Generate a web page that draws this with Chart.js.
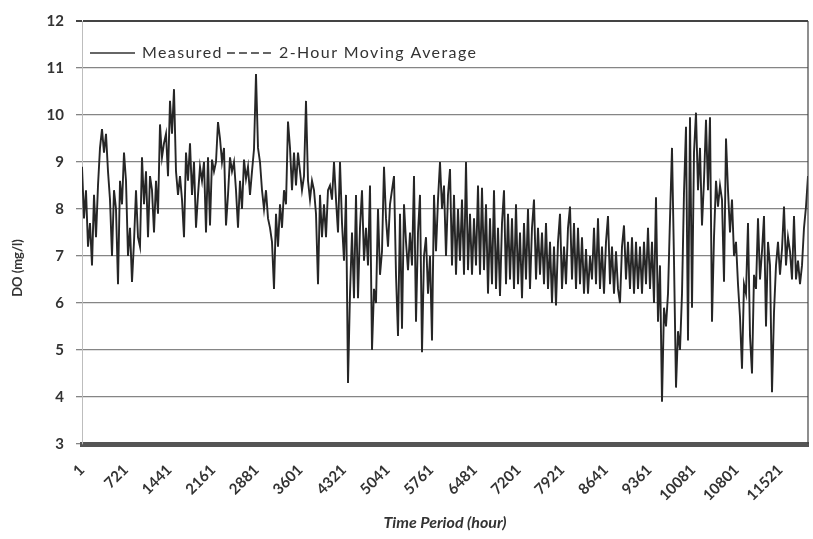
<!DOCTYPE html>
<html>
<head>
<meta charset="utf-8">
<script src="https://cdn.jsdelivr.net/npm/chart.js@4.4.1/dist/chart.umd.min.js"></script>
<style>
  body { margin: 0; background: #fff; }
</style>
</head>
<body>
<canvas id="doChart" width="813" height="539"></canvas>
<script>
// DO readings, one every 33 hours from hour 1
const firstHour = 1;
const hourStep = 33;
const doValues = [
  8.9, 7.8, 8.4, 7.2, 7.7, 6.8, 8.3, 7.4, 8.5, 9.3,
  9.7, 9.2, 9.6, 8.8, 8.2, 7.0, 8.4, 8.0, 6.4, 8.6,
  8.1, 9.2, 8.6, 7.0, 7.6, 6.45, 7.3, 8.4, 7.4, 7.2,
  9.1, 8.1, 8.8, 7.4, 8.7, 8.4, 7.5, 8.6, 7.9, 9.8,
  9.1, 9.4, 9.6, 8.7, 10.3, 9.6, 10.55, 8.8, 8.3, 8.7,
  8.2, 7.4, 9.2, 8.6, 9.4, 8.3, 9.0, 7.6, 8.3, 8.9,
  8.6, 9.0, 7.5, 9.1, 7.65, 9.05, 8.8, 9.0, 9.85, 9.5,
  9.0, 9.3, 7.65, 8.3, 9.1, 8.8, 9.0, 8.4, 7.6, 8.6,
  8.0, 9.05, 8.64, 8.9, 8.3, 8.8, 9.27, 10.87, 9.3, 9.0,
  8.4, 8.0, 8.4, 7.8, 7.6, 7.3, 6.3, 7.9, 7.2, 8.1,
  7.6, 8.4, 8.1, 9.86, 9.3, 8.4, 9.2, 8.5, 9.2, 8.8,
  8.4, 8.7, 10.3, 8.6, 8.2, 8.6, 8.4, 7.9, 6.4, 8.3,
  7.4, 8.1, 7.4, 8.4, 8.5, 8.2, 9.0, 8.2, 7.5, 9.0,
  7.7, 6.9, 8.3, 4.3, 6.2, 7.5, 6.1, 8.3, 6.1, 7.6,
  8.4, 6.9, 7.6, 6.8, 8.5, 5.0, 6.3, 6.0, 8.0, 6.6,
  7.1, 8.9, 7.8, 7.2, 8.1, 8.4, 8.7, 6.6, 5.3, 7.9,
  5.45, 8.1, 7.3, 6.7, 7.5, 6.8, 8.7, 5.6, 7.5, 8.3,
  4.95, 7.0, 7.4, 6.2, 7.0, 5.2, 8.3, 7.1, 8.2, 9.0,
  8.0, 8.5, 7.0, 8.3, 8.85, 6.8, 8.3, 6.6, 8.0, 6.9,
  8.2, 6.6, 9.0, 6.7, 7.9, 6.6, 7.8, 6.8, 8.5, 6.6,
  8.45, 6.7, 8.1, 6.2, 7.8, 6.4, 8.4, 6.3, 7.6, 6.15,
  7.7, 8.4, 6.4, 7.9, 6.5, 7.8, 6.3, 8.1, 6.4, 7.5,
  6.1, 7.7, 6.5, 8.0, 6.3, 7.6, 8.2, 6.5, 7.6, 6.6,
  7.5, 6.4, 7.7, 6.3, 7.3, 6.0, 7.2, 5.95, 7.3, 7.9,
  6.3, 7.2, 6.4, 7.6, 8.05, 6.5, 7.7, 6.3, 7.6, 6.4,
  7.4, 6.2, 7.15, 6.2, 7.0, 6.5, 7.6, 6.4, 7.8, 6.3,
  7.2, 6.2, 7.3, 7.85, 6.4, 7.2, 6.2, 7.1, 6.3, 6.0,
  7.2, 7.65, 6.5, 7.3, 6.3, 7.4, 6.2, 7.3, 6.3, 7.2,
  6.2, 7.3, 6.4, 7.6, 6.3, 7.3, 6.0, 8.25, 5.6, 6.8,
  3.9, 5.9, 5.5, 6.2, 7.8, 9.3, 6.9, 4.2, 5.4, 5.0,
  6.2, 8.35, 9.75, 5.2, 9.95, 5.9, 9.2, 10.05, 8.4, 9.3,
  7.65, 8.6, 9.9, 8.4, 9.95, 5.6, 7.4, 8.6, 8.05, 8.5,
  8.2, 6.45, 9.5, 8.4, 7.5, 8.2, 7.0, 7.3, 6.4, 5.7,
  4.6, 6.4, 6.2, 7.7, 5.3, 4.5, 6.6, 6.3, 7.8, 6.5,
  7.1, 7.85, 5.5, 7.3, 6.8, 4.1, 5.8, 6.8, 7.3, 6.6,
  7.15, 8.05, 6.8, 7.4, 7.1, 6.5, 7.85, 6.5, 6.9, 6.4,
  6.8, 7.6, 8.05, 8.7
];
const tickHours = [1, 721, 1441, 2161, 2881, 3601, 4321, 5041, 5761, 6481,
  7201, 7921, 8641, 9361, 10081, 10801, 11521];
const seriesLabels = ['Measured', '2-Hour Moving Average'];

const lastHour = firstHour + (doValues.length - 1) * hourStep;
const points = doValues.map((v, i) => ({ x: firstHour + i * hourStep, y: v }));
const font = 'Lato, "Open Sans", sans-serif';

// legend sits inside the plot, top left, like the Excel original
const innerLegend = {
  id: 'innerLegend',
  afterDraw(chart) {
    const { ctx, chartArea } = chart;
    ctx.save();
    ctx.font = '16px ' + font;
    ctx.letterSpacing = '1.4px';
    ctx.textBaseline = 'middle';
    let x = chartArea.left + 8;
    const y = chartArea.top + 32;
    chart.data.datasets.forEach(ds => {
      ctx.strokeStyle = '#333';
      ctx.lineWidth = 1.6;
      ctx.setLineDash(ds.borderDash || []);
      ctx.beginPath();
      ctx.moveTo(x, y);
      ctx.lineTo(x + 45, y);
      ctx.stroke();
      ctx.setLineDash([]);
      ctx.fillStyle = '#333';
      ctx.fillText(ds.label, x + 52, y);
      x += 52 + ctx.measureText(ds.label).width + 4;
    });
    // right border of the plot area
    ctx.strokeStyle = '#444';
    ctx.lineWidth = 1.2;
    ctx.beginPath();
    ctx.moveTo(chartArea.right, chartArea.top);
    ctx.lineTo(chartArea.right, chartArea.bottom);
    ctx.stroke();
    // y axis title
    ctx.letterSpacing = '0px';
    ctx.font = 'bold 13px ' + font;
    ctx.translate(18, 268);
    ctx.rotate(-Math.PI / 2);
    ctx.textAlign = 'center';
    ctx.fillText('DO (mg/l)', 0, 0);
    ctx.restore();
  }
};

new Chart(document.getElementById('doChart'), {
  type: 'line',
  data: {
    datasets: [{
      label: seriesLabels[0],
      data: points,
      borderColor: '#262626',
      borderWidth: 1.9,
      pointRadius: 0,
      tension: 0
    }, {
      label: seriesLabels[1],
      data: [],
      borderColor: '#262626',
      borderDash: [8, 4],
      borderWidth: 1.6,
      pointRadius: 0
    }]
  },
  options: {
    responsive: false,
    animation: false,
    layout: { padding: { top: 14, right: 5, left: 0, bottom: 0 } },
    plugins: {
      legend: { display: false },
      tooltip: { enabled: false }
    },
    scales: {
      x: {
        type: 'linear',
        min: firstHour,
        max: lastHour,
        afterBuildTicks: axis => { axis.ticks = tickHours.map(v => ({ value: v })); },
        afterFit: axis => { axis.height = 95; },
        grid: { display: false, drawTicks: false },
        border: { display: true, color: '#555', width: 5 },
        ticks: {
          autoSkip: false,
          minRotation: 45,
          maxRotation: 45,
          padding: 17,
          color: '#333',
          font: { family: font, size: 15, weight: 'bold' },
          callback: v => String(v)
        },
        title: {
          display: true,
          text: 'Time Period (hour)',
          color: '#333',
          font: { family: font, size: 16, weight: 'bold', style: 'italic' },
          padding: { top: 0, bottom: 7 }
        }
      },
      y: {
        min: 3,
        max: 12,
        afterFit: axis => { axis.width = 82; },
        grid: {
          color: c => c.tick && c.tick.value === 12 ? '#444' : '#858585',
          lineWidth: c => c.tick && c.tick.value === 12 ? 2 : 1.3,
          tickLength: 6
        },
        border: { display: true, color: '#bdbdbd', width: 1 },
        ticks: {
          stepSize: 1,
          padding: 12,
          color: '#333',
          font: { family: font, size: 15, weight: 'bold' }
        }
      }
    }
  },
  plugins: [innerLegend]
});
</script>
</body>
</html>
